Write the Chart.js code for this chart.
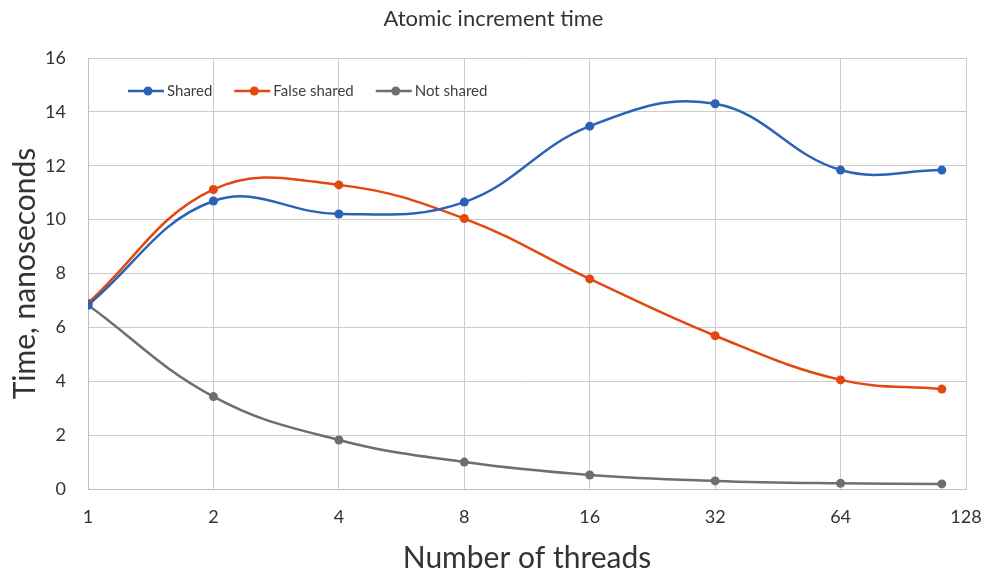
<!DOCTYPE html>
<html>
<head>
<meta charset="utf-8">
<script src="https://cdn.jsdelivr.net/npm/chart.js@4/dist/chart.umd.min.js"></script>
<style>
  html, body { margin: 0; padding: 0; background: #fff; }
  #wrap { width: 987px; height: 573px; }
</style>
</head>
<body>
<div id="wrap"><canvas id="atomic" width="987" height="573"></canvas></div>
<script>
// thread counts (last run used 112 threads, drawn just short of the 128 gridline)
const threads = [1, 2, 4, 8, 16, 32, 64, 112]
const xTicks = [1, 2, 4, 8, 16, 32, 64, 128]
const yTicks = [0, 2, 4, 6, 8, 10, 12, 14, 16]

const shared = [6.83, 10.69, 10.21, 10.65, 13.47, 14.3, 11.84, 11.84]
const falseShared = [6.9, 11.12, 11.29, 10.04, 7.8, 5.69, 4.05, 3.71]
const notShared = [6.83, 3.43, 1.82, 1.0, 0.52, 0.3, 0.21, 0.19]

const FONT = 'Lato, "Open Sans", sans-serif'

function series(values) {
    return values.map((v, i) => ({ x: threads[i], y: v }))
}

function line(label, values, color) {
    return {
        label: label,
        data: series(values),
        borderColor: color,
        backgroundColor: color,
        borderWidth: 2.5,
        pointRadius: 4.5,
        pointHoverRadius: 4.5,
        pointBorderWidth: 0,
        tension: 0.4,
        fill: false
    }
}

// legend drawn inside the plot area, Excel style: short line with a dot, then the name
const insideLegend = {
    id: 'insideLegend',
    afterDatasetsDraw(chart) {
        const { ctx, chartArea } = chart
        let x = chartArea.left + 40
        const y = chartArea.top + 33
        ctx.save()
        ctx.font = '15px ' + FONT
        ctx.textBaseline = 'middle'
        chart.data.datasets.forEach(ds => {
            ctx.strokeStyle = ds.borderColor
            ctx.fillStyle = ds.borderColor
            ctx.lineWidth = 2.5
            ctx.beginPath()
            ctx.moveTo(x, y)
            ctx.lineTo(x + 36, y)
            ctx.stroke()
            ctx.beginPath()
            ctx.arc(x + 20, y, 4.5, 0, Math.PI * 2)
            ctx.fill()
            ctx.fillStyle = '#404040'
            ctx.fillText(ds.label, x + 39, y)
            x += 39 + ctx.measureText(ds.label).width + 22
        })
        ctx.restore()
    }
}

const config = {
    type: 'line',
    data: {
        datasets: [
            line('Shared', shared, '#2a62b8'),
            line('False shared', falseShared, '#e2480f'),
            line('Not shared', notShared, '#6e6e6e')
        ]
    },
    options: {
        responsive: false,
        animation: false,
        layout: { padding: 0 },
        plugins: {
            legend: { display: false },
            tooltip: { enabled: false },
            title: {
                display: true,
                text: 'Atomic increment time',
                color: '#333333',
                font: { family: FONT, size: 22, weight: 'normal', lineHeight: 1.2 },
                padding: { top: 6, bottom: 25.6 }
            }
        },
        scales: {
            x: {
                type: 'logarithmic',
                min: 1,
                max: 128,
                afterBuildTicks: axis => { axis.ticks = xTicks.map(v => ({ value: v })) },
                afterFit: axis => {
                    axis.height = 84
                    axis.paddingRight = 21
                },
                ticks: {
                    callback: v => String(v),
                    autoSkip: false,
                    maxRotation: 0,
                    padding: 17,
                    color: '#333333',
                    font: { family: FONT, size: 18 }
                },
                grid: { color: '#cccccc', lineWidth: 1, drawTicks: false },
                border: { color: '#bfbfbf' },
                title: {
                    display: true,
                    text: 'Number of threads',
                    color: '#333333',
                    font: { family: FONT, size: 30, lineHeight: 1 },
                    padding: { top: 0, bottom: 0 }
                }
            },
            y: {
                min: 0,
                max: 16,
                afterBuildTicks: axis => { axis.ticks = yTicks.map(v => ({ value: v })) },
                afterFit: axis => { axis.width = 88 },
                ticks: {
                    padding: 22,
                    color: '#333333',
                    font: { family: FONT, size: 18 }
                },
                grid: { color: '#cccccc', lineWidth: 1, drawTicks: false },
                border: { color: '#bfbfbf' },
                title: {
                    display: true,
                    text: 'Time, nanoseconds',
                    color: '#333333',
                    font: { family: FONT, size: 30, lineHeight: 1 },
                    padding: { top: 10, bottom: 0 }
                }
            }
        }
    },
    plugins: [insideLegend]
}

new Chart(document.getElementById('atomic'), config)
</script>
</body>
</html>
